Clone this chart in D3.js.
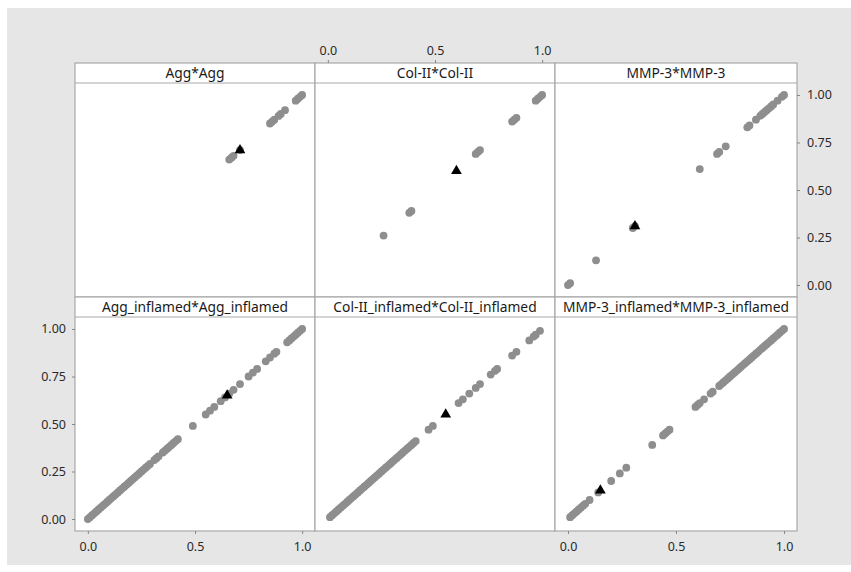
<!DOCTYPE html>
<html><head><meta charset="utf-8">
<script src="https://cdn.jsdelivr.net/npm/d3@7"></script>
<style>
body{margin:0;background:#fff}
svg{display:block}
text{font-family:"Noto Sans",sans-serif}
</style>
</head><body>
<svg id="c" width="851" height="572"></svg>
<script>
// ---- data ----
const panelTitles = ["Agg*Agg", "Col-II*Col-II", "MMP-3*MMP-3",
  "Agg_inflamed*Agg_inflamed", "Col-II_inflamed*Col-II_inflamed", "MMP-3_inflamed*MMP-3_inflamed"];

const aggValues = [0.66, 0.67, 0.68, 0.71, 0.85, 0.86, 0.87, 0.89, 0.90, 0.92, 0.97, 0.98, 0.99, 1.00];
const colIIValues = [0.26, 0.38, 0.39, 0.69, 0.70, 0.71, 0.86, 0.87, 0.88, 0.97, 0.98, 0.99, 1.00];
const mmp3Values = [0.00, 0.01, 0.13, 0.30, 0.31, 0.61, 0.69, 0.70, 0.73, 0.83, 0.84, 0.87, 0.89, 0.90,
  0.91, 0.92, 0.93, 0.94, 0.95, 0.97, 0.99, 1.00];
const aggInflValues = [0.00, 0.01, 0.02, 0.03, 0.04, 0.05, 0.06, 0.07, 0.08, 0.09, 0.10, 0.11, 0.12, 0.13,
  0.14, 0.15, 0.16, 0.17, 0.18, 0.19, 0.20, 0.21, 0.22, 0.23, 0.24, 0.25, 0.26, 0.27, 0.28, 0.29,
  0.31, 0.32, 0.33, 0.35, 0.36, 0.37, 0.38, 0.39, 0.40, 0.41, 0.42, 0.49, 0.55, 0.57, 0.59, 0.62,
  0.64, 0.66, 0.68, 0.71, 0.75, 0.77, 0.79, 0.83, 0.85, 0.87, 0.88, 0.93, 0.94, 0.95, 0.96, 0.97,
  0.98, 0.99, 1.00];
const colIIInflValues = [0.01, 0.02, 0.03, 0.04, 0.05, 0.06, 0.07, 0.08, 0.09, 0.10, 0.11, 0.12, 0.13,
  0.14, 0.15, 0.16, 0.17, 0.18, 0.19, 0.20, 0.21, 0.22, 0.23, 0.24, 0.25, 0.26, 0.27, 0.28, 0.29,
  0.30, 0.31, 0.32, 0.33, 0.34, 0.35, 0.36, 0.37, 0.38, 0.39, 0.40, 0.41, 0.47, 0.49, 0.61, 0.63,
  0.66, 0.69, 0.71, 0.76, 0.78, 0.79, 0.86, 0.88, 0.94, 0.96, 0.97, 0.99];
const mmp3InflValues = [0.01, 0.02, 0.03, 0.04, 0.05, 0.06, 0.07, 0.08, 0.10, 0.14, 0.20, 0.24, 0.27,
  0.39, 0.44, 0.45, 0.46, 0.47, 0.59, 0.60, 0.61, 0.63, 0.66, 0.67, 0.70, 0.71, 0.72, 0.73, 0.74,
  0.75, 0.76, 0.77, 0.78, 0.79, 0.80, 0.81, 0.82, 0.83, 0.84, 0.85, 0.86, 0.87, 0.88, 0.89, 0.90,
  0.91, 0.92, 0.93, 0.94, 0.95, 0.96, 0.97, 0.98, 0.99, 1.00];
const meanValues = [0.71, 0.60, 0.31, 0.65, 0.55, 0.15];

const xTickValues = [0, 0.5, 1];
const xTickLabels = ["0.0", "0.5", "1.0"];
const yTickValues = [0, 0.25, 0.5, 0.75, 1];
const yTickLabels = ["0.00", "0.25", "0.50", "0.75", "1.00"];

const seriesList = [aggValues, colIIValues, mmp3Values, aggInflValues, colIIInflValues, mmp3InflValues];

// ---- layout ----
const svg = d3.select("#c");
const colLeft = [75, 315, 555];
const colRight = [315, 555, 797];
const stripTop = [63, 297];
const stripH = 20;
const plotH = 214;
const frameCol = "#a9a9a9";
const pointCol = "#8e8e8e";

svg.append("rect").attr("x", 7).attr("y", 8).attr("width", 844).attr("height", 557).attr("fill", "#e6e6e6");

panelTitles.forEach((title, i) => {
  const col = i % 3, row = Math.floor(i / 3);
  const L = colLeft[col], R = colRight[col];
  const T = stripTop[row] + stripH, B = T + plotH;
  const x = d3.scaleLinear().domain([-0.06, 1.06]).range([L, R]);
  const y = d3.scaleLinear().domain([-0.063, 1.063]).range([B, T]);
  const g = svg.append("g");
  g.append("rect").attr("x", L).attr("y", T).attr("width", R - L).attr("height", plotH).attr("fill", "#fff");
  g.append("rect").attr("x", L).attr("y", stripTop[row]).attr("width", R - L).attr("height", stripH)
    .attr("fill", "#fff");
  g.append("text").attr("x", (L + R) / 2).attr("y", stripTop[row] + 15).attr("text-anchor", "middle")
    .attr("font-size", 13.8).attr("fill", "#1a1a1a").text(title);

  g.selectAll("circle.p").data(seriesList[i]).join("circle").attr("class", "p")
    .attr("cx", d => x(d)).attr("cy", d => y(d)).attr("r", 3.9).attr("fill", pointCol);
  g.append("path").attr("d", d3.symbol(d3.symbolTriangle, 50)())
    .attr("transform", `translate(${x(meanValues[i])},${y(meanValues[i])})`).attr("fill", "#000");

  // frames
  g.append("rect").attr("x", L).attr("y", stripTop[row]).attr("width", R - L).attr("height", stripH + plotH)
    .attr("fill", "none").attr("stroke", frameCol).attr("stroke-width", 1.2);
  g.append("line").attr("x1", L).attr("x2", R).attr("y1", T).attr("y2", T)
    .attr("stroke", frameCol).attr("stroke-width", 1.2);

  const fmtX = d => xTickLabels[xTickValues.indexOf(d)];
  const fmtY = d => yTickLabels[yTickValues.indexOf(d)];
  const styleAxis = a => {
    a.select(".domain").remove();
    a.selectAll(".tick line").attr("stroke", "#888");
    a.selectAll(".tick text").attr("fill", "#2a2a2a").attr("font-size", 12.5).attr("font-family", "Noto Sans, sans-serif");
  };
  if (row === 0 && col === 1) {
    svg.append("g").attr("transform", `translate(0,${stripTop[row]})`)
      .call(d3.axisTop(x).tickValues(xTickValues).tickFormat(fmtX).tickSize(3).tickPadding(5)).call(styleAxis);
  }
  if (row === 0 && col === 2) {
    svg.append("g").attr("transform", `translate(${R},0)`)
      .call(d3.axisRight(y).tickValues(yTickValues).tickFormat(fmtY).tickSize(3).tickPadding(7)).call(styleAxis);
  }
  if (row === 1 && col === 0) {
    svg.append("g").attr("transform", `translate(${L},0)`)
      .call(d3.axisLeft(y).tickValues(yTickValues).tickFormat(fmtY).tickSize(3).tickPadding(6)).call(styleAxis);
  }
  if (row === 1 && (col === 0 || col === 2)) {
    svg.append("g").attr("transform", `translate(0,${B})`)
      .call(d3.axisBottom(x).tickValues(xTickValues).tickFormat(fmtX).tickSize(3).tickPadding(8)).call(styleAxis);
  }
});
</script>
</body></html>
